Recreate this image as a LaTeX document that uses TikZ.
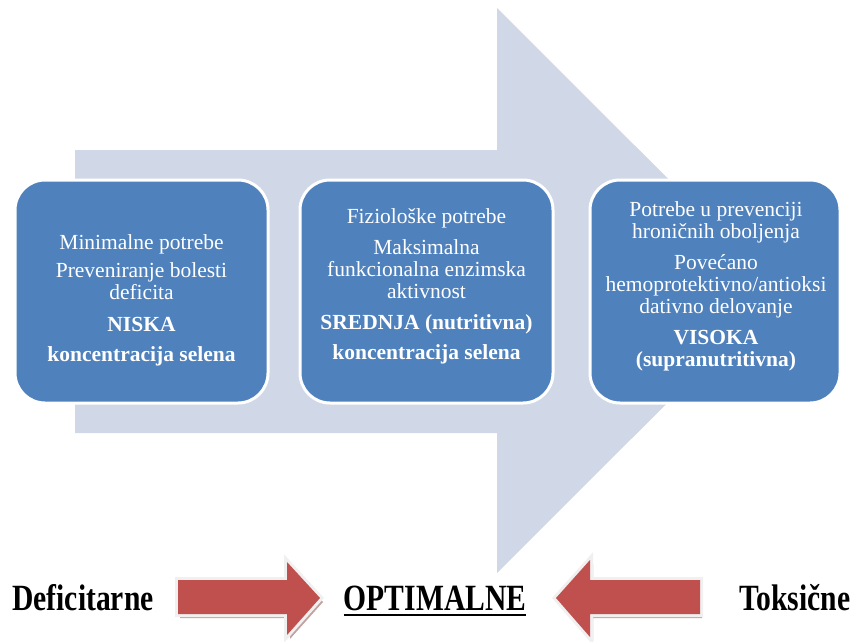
\documentclass[tikz,border=0pt]{standalone}
\usepackage{fontspec}
\setmainfont{Liberation Serif}
\newfontfamily\condfont{Liberation Serif}[FakeStretch=0.8]
\definecolor{bigarrowc}{HTML}{D0D8E8}
\definecolor{boxc}{HTML}{4F81BD}
\definecolor{redc}{HTML}{C0504D}
\definecolor{shadowc}{HTML}{A87A78}
\definecolor{rimc}{HTML}{F0F0F0}
\tikzset{
  bigarrow/.style={fill=bigarrowc},
  stagebox/.style={draw=white, line width=3pt, fill=boxc, rounded corners=30pt, minimum height=223pt, inner sep=0pt},
  boxtext/.style={text=white, align=center, inner sep=0pt, font=\fontsize{21.5}{22}\selectfont},
  bottomtext/.style={inner sep=0pt, font=\condfont\bfseries\fontsize{37}{40}\selectfont},
  redarrow/.style={fill=redc},
  redrim/.style={draw=rimc, fill=rimc, line width=6pt, line join=miter},
  redshadow/.style={fill=shadowc, opacity=0.7}
}
\begin{document}
\begin{tikzpicture}[x=1pt,y=-1pt]
\useasboundingbox (0,0) rectangle (854,642);
% big background arrow
\fill[bigarrow] (75,150) -- (497,150) -- (497,8) -- (780,290.5) -- (497,573) -- (497,433) -- (75,433) -- cycle;
% stage boxes
\node[stagebox, minimum width=253pt] (b1) at (141.5,291.5) {};
\node[stagebox, minimum width=253pt] (b2) at (426.5,291.5) {};
\node[stagebox, minimum width=250pt] (b3) at (715,291.5) {};
% box texts (anchored at the baseline of the last line)
\node[boxtext, anchor=base] (t1) at (141.5,361) {Minimalne potrebe\\[6pt]Preveniranje bolesti\\deficita\\[10pt]\textbf{NISKA}\\[8pt]\textbf{koncentracija selena}};
\node[boxtext, anchor=base] (t2) at (426.5,359) {Fiziološke potrebe\\[9pt]Maksimalna\\funkcionalna enzimska\\aktivnost\\[9pt]\textbf{SREDNJA (nutritivna)}\\[8pt]\textbf{koncentracija selena}};
\node[boxtext, anchor=base] (t3) at (716,366) {Potrebe u prevenciji\\hroničnih oboljenja\\[9pt]Povećano\\hemoprotektivno/antioksi\\dativno delovanje\\[9pt]\textbf{VISOKA}\\\textbf{(supranutritivna)}};
% left red arrow
\fill[redshadow] (180,584) -- (290,584) -- (290,566) -- (323,602) -- (290,639) -- (290,618) -- (180,618) -- cycle;
\filldraw[redrim] (178,580) -- (287,580) -- (287,562) -- (320,598) -- (287,635) -- (287,614) -- (178,614) -- cycle;
\fill[redarrow] (178,580) -- (287,580) -- (287,562) -- (320,598) -- (287,635) -- (287,614) -- (178,614) -- cycle;
% right red arrow
\fill[redshadow] (702,584) -- (593,584) -- (593,564) -- (559,602) -- (593,641) -- (593,618) -- (702,618) -- cycle;
\filldraw[redrim] (700,580) -- (590,580) -- (590,560) -- (556,598) -- (590,637) -- (590,614) -- (700,614) -- cycle;
\fill[redarrow] (700,580) -- (590,580) -- (590,560) -- (556,598) -- (590,637) -- (590,614) -- (700,614) -- cycle;
% bottom labels
\node[bottomtext, anchor=base] (def) at (83,610) {Deficitarne};
\node[bottomtext, anchor=base] (opt) at (435,610) {OPTIMALNE};
\node[bottomtext, anchor=base] (tox) at (795,610) {Toksične};
\draw[line width=2pt] ([yshift=-5pt]opt.base west) -- ([yshift=-5pt]opt.base east);
\end{tikzpicture}
\end{document}
